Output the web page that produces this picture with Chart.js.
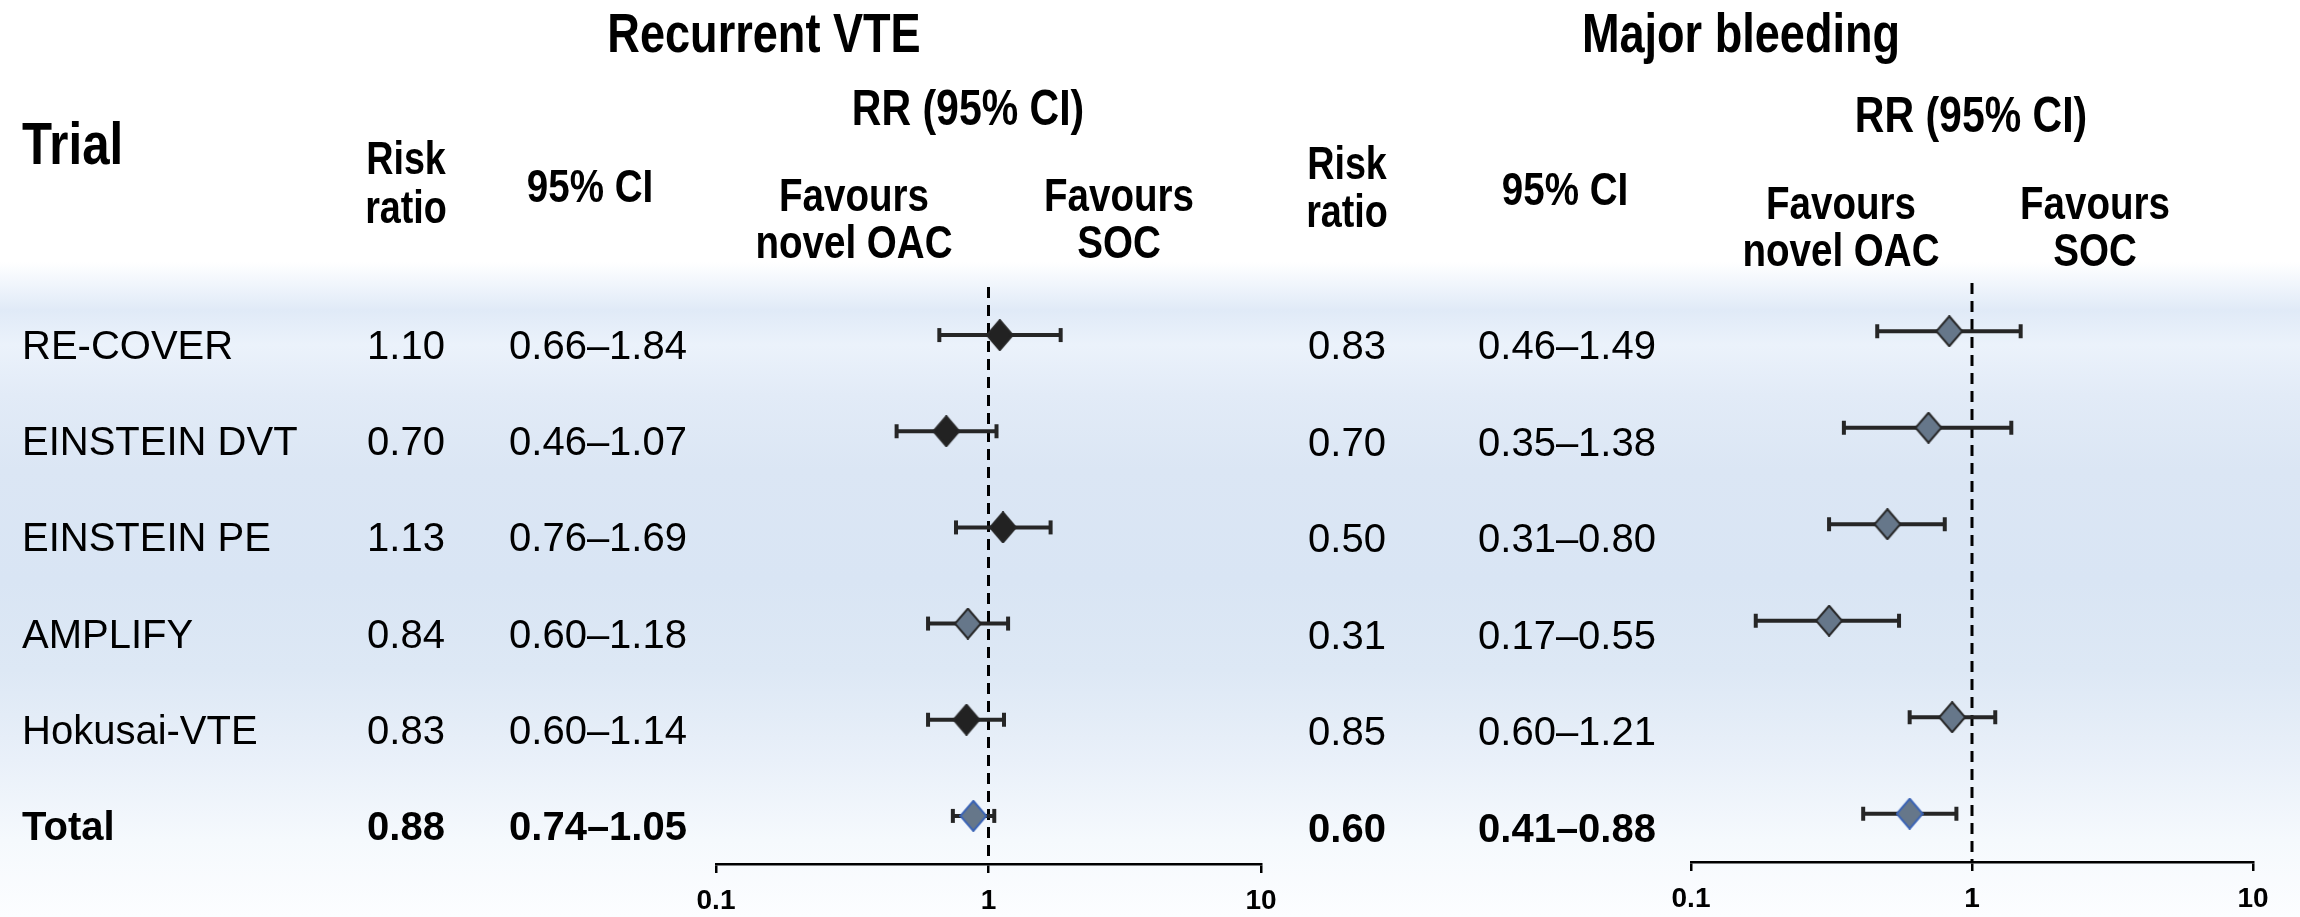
<!DOCTYPE html>
<html><head><meta charset="utf-8">
<script src="https://cdn.jsdelivr.net/npm/chart.js@4.4.1/dist/chart.umd.min.js"></script>
<style>
html,body{margin:0;padding:0;width:2300px;height:917px;overflow:hidden;}
body{position:relative;background:linear-gradient(to bottom,#ffffff 0px,#ffffff 262px,#f0f5fc 285px,#e0eaf7 310px,#ebf2fb 345px,#e2ebf7 395px,#dbe6f4 470px,#d9e5f4 580px,#dde8f5 670px,#e9f0f9 760px,#f5f9fd 840px,#fcfdff 917px);}
canvas{position:absolute;left:0;top:0;}
</style></head><body>
<canvas id="vte" width="2300" height="917"></canvas>
<canvas id="bleed" width="2300" height="917"></canvas>
<script>
// ---- data ----
const trials = ['RE-COVER', 'EINSTEIN DVT', 'EINSTEIN PE', 'AMPLIFY', 'Hokusai-VTE', 'Total'];
const vteRR = [1.10, 0.70, 1.13, 0.84, 0.83, 0.88];
const vteLo = [0.66, 0.46, 0.76, 0.60, 0.60, 0.74];
const vteHi = [1.84, 1.07, 1.69, 1.18, 1.14, 1.05];
const bleedRR = [0.83, 0.70, 0.50, 0.31, 0.85, 0.60];
const bleedLo = [0.46, 0.35, 0.31, 0.17, 0.60, 0.41];
const bleedHi = [1.49, 1.38, 0.80, 0.55, 1.21, 0.88];
const tickValues = [0.1, 1, 10];
const tickLabels = ['0.1', '1', '10'];
const panelTitles = ['Recurrent VTE', 'Major bleeding'];

// ---- styles ----
const DARK = '#222222', SLATE = '#66778a', EDGE = '#262626', BLUE = '#3a63b5';
const vteFill = [DARK, DARK, DARK, SLATE, DARK, SLATE];
const vteEdge = [EDGE, EDGE, EDGE, EDGE, EDGE, BLUE];
const bleedFill = [SLATE, SLATE, SLATE, SLATE, SLATE, SLATE];
const bleedEdge = [EDGE, EDGE, EDGE, EDGE, EDGE, BLUE];
const TICK_FONT = {family: 'Liberation Sans', size: 28, weight: 'bold', lineHeight: 1.2};

function diamond(fill, edge) {
  const w = 28, h = 32, lw = 2;
  const c = document.createElement('canvas');
  c.width = w; c.height = h;
  const g = c.getContext('2d');
  g.beginPath();
  g.moveTo(w / 2, lw / 2); g.lineTo(w - lw / 2, h / 2); g.lineTo(w / 2, h - lw / 2); g.lineTo(lw / 2, h / 2);
  g.closePath();
  g.fillStyle = fill; g.fill();
  g.lineWidth = lw; g.strokeStyle = edge; g.lineJoin = 'miter'; g.stroke();
  return c;
}

const NARROW = (() => {
  const c = document.createElement('canvas').getContext('2d');
  c.font = 'bold 40px monospace'; const a = c.measureText('Recurrent VTE').width;
  c.font = 'bold 40px "Liberation Sans Narrow", monospace'; const b = c.measureText('Recurrent VTE').width;
  return Math.abs(a - b) > 1;
})();

function headText(ctx, txt, x, y, size, align) {
  ctx.save();
  ctx.fillStyle = '#000';
  ctx.textAlign = align || 'center';
  ctx.textBaseline = 'middle';
  if (NARROW) {
    ctx.font = 'bold ' + size + 'px "Liberation Sans Narrow"';
    ctx.fillText(txt, x, y);
  } else {
    ctx.translate(x, y); ctx.scale(0.82, 1);
    ctx.font = 'bold ' + size + 'px "Liberation Sans", Arial, sans-serif';
    ctx.fillText(txt, 0, 0);
  }
  ctx.restore();
}
function bodyText(ctx, txt, x, y, bold, align) {
  ctx.save();
  ctx.fillStyle = '#000';
  ctx.textAlign = align || 'center';
  ctx.textBaseline = 'middle';
  ctx.font = (bold ? 'bold ' : '') + '40px "Liberation Sans", Arial, sans-serif';
  ctx.fillText(txt, x, y);
  ctx.restore();
}

function makePanel(id, rr, lo, hi, fill, edge, geom, headers, showTrials) {
  const datasets = [];
  datasets.push({
    type: 'scatter', showLine: true, order: 3,
    data: [{x: 1, y: -0.5}, {x: 1, y: trials.length - 0.5}],
    borderColor: '#000', borderWidth: 3, borderDash: [11, 7], pointRadius: 0, clip: false
  });
  for (let i = 0; i < trials.length; i++) {
    datasets.push({
      type: 'scatter', showLine: true, order: 2,
      data: [{x: lo[i], y: i}, {x: hi[i], y: i}],
      borderColor: '#262626', borderWidth: 4,
      pointStyle: 'line', pointRotation: 90, pointRadius: 7, pointBorderWidth: 4,
      pointBorderColor: '#262626', clip: false
    });
  }
  datasets.push({
    type: 'scatter', order: 1,
    data: rr.map((v, i) => ({x: v, y: i})),
    pointStyle: rr.map((v, i) => diamond(fill[i], edge[i])),
    pointRadius: 15, clip: false
  });

  const textPlugin = {
    id: 'tableText' + id,
    afterDraw(chart) {
      const ctx = chart.ctx, ys = chart.scales.y;
      headers(ctx);
      for (let i = 0; i < trials.length; i++) {
        const y = ys.getPixelForValue(i) + geom.textOff;
        const bold = i === trials.length - 1;
        if (showTrials) bodyText(ctx, trials[i], 22, y, bold, 'left');
        bodyText(ctx, rr[i].toFixed(2), geom.colRR, y, bold);
        bodyText(ctx, lo[i].toFixed(2) + '\u2013' + hi[i].toFixed(2), geom.colCI, y, bold);
      }
    }
  };

  return new Chart(document.getElementById(id), {
    type: 'scatter',
    data: {datasets},
    options: {
      responsive: false, animation: false, devicePixelRatio: 1, events: [],
      layout: {padding: {left: geom.axisLeft, right: 2300 - geom.axisRight, top: geom.top, bottom: 0}},
      plugins: {legend: {display: false}, tooltip: {enabled: false}},
      scales: {
        x: {
          type: 'logarithmic', min: 0.1, max: 10, position: 'bottom',
          afterBuildTicks(scale) { scale.ticks = tickValues.map(v => ({value: v})); },
          afterFit(scale) { scale.height = 917 - geom.axisY; },
          ticks: {
            autoSkip: false, maxRotation: 0, padding: 11, color: '#000',
            font: TICK_FONT,
            major: {enabled: false},
            callback: (v, idx) => tickLabels[idx]
          },
          grid: {display: true, drawOnChartArea: false, drawTicks: true, tickLength: 9, color: '#000', lineWidth: 2.5},
          border: {display: true, color: '#000', width: 2.5}
        },
        y: {type: 'linear', min: -0.5, max: trials.length - 0.5, reverse: true, display: false}
      }
    },
    plugins: [textPlugin]
  });
}

makePanel('vte', vteRR, vteLo, vteHi, vteFill, vteEdge,
  {axisLeft: 716, axisRight: 1261, top: 287, axisY: 864, textOff: 13, colRR: 406, colCI: 598},
  ctx => {
    headText(ctx, panelTitles[0], 764, 37, 55);
    headText(ctx, 'Trial', 22, 147, 60, 'left');
    headText(ctx, 'Risk', 406, 161, 46);
    headText(ctx, 'ratio', 406, 210, 46);
    headText(ctx, '95% CI', 590, 189, 47);
    headText(ctx, 'RR (95% CI)', 968, 111, 50);
    headText(ctx, 'Favours', 854, 198, 47);
    headText(ctx, 'novel OAC', 854, 245, 47);
    headText(ctx, 'Favours', 1119, 198, 47);
    headText(ctx, 'SOC', 1119, 245, 47);
  }, true);

makePanel('bleed', bleedRR, bleedLo, bleedHi, bleedFill, bleedEdge,
  {axisLeft: 1691, axisRight: 2253, top: 283, axisY: 862, textOff: 17, colRR: 1347, colCI: 1567},
  ctx => {
    headText(ctx, panelTitles[1], 1741, 37, 55);
    headText(ctx, 'Risk', 1347, 166, 46);
    headText(ctx, 'ratio', 1347, 214, 46);
    headText(ctx, '95% CI', 1565, 192, 47);
    headText(ctx, 'RR (95% CI)', 1971, 118, 50);
    headText(ctx, 'Favours', 1841, 206, 47);
    headText(ctx, 'novel OAC', 1841, 253, 47);
    headText(ctx, 'Favours', 2095, 206, 47);
    headText(ctx, 'SOC', 2095, 253, 47);
  }, false);
</script>
</body></html>
